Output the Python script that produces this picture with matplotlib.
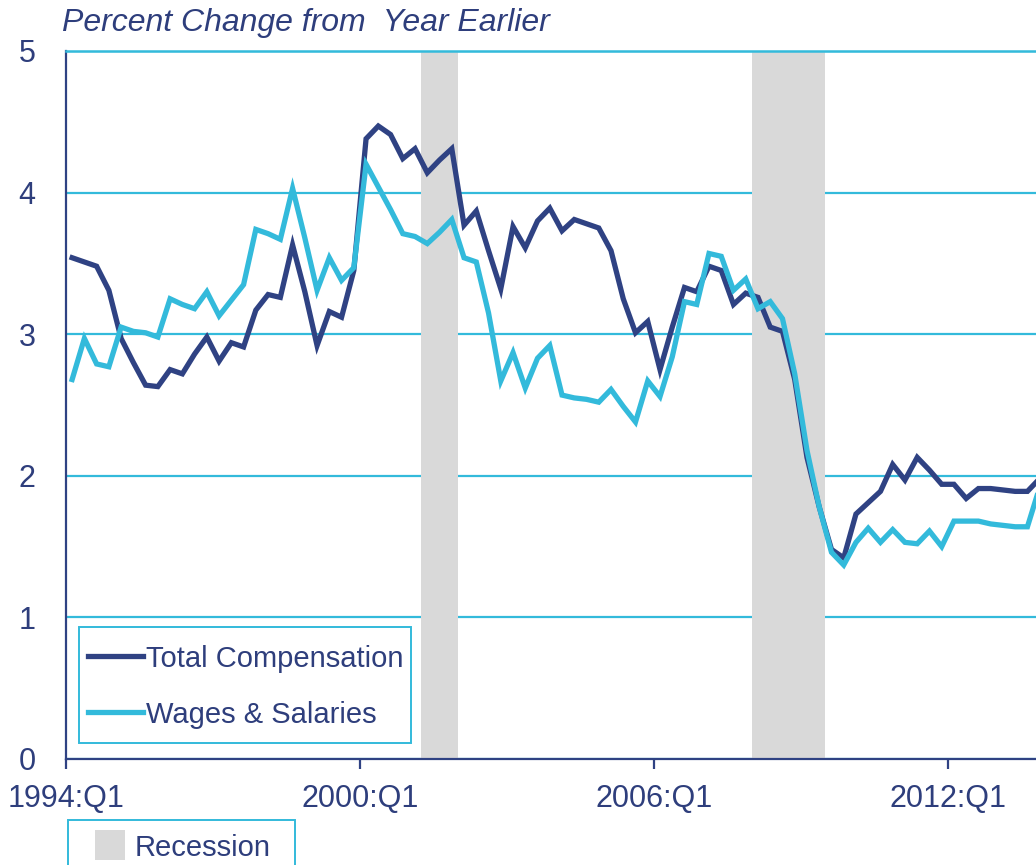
import numpy as np
import matplotlib.pyplot as plt
from matplotlib.patches import Rectangle
from matplotlib.lines import Line2D

plt.rcParams['font.family'] = ['Liberation Sans', 'DejaVu Sans']

# quarterly observations, 1994:Q1 .. 2013:Q4
quarters = [f"{y}:Q{q}" for y in range(1994, 2014) for q in range(1, 5)]

total_comp = [3.54, 3.51, 3.48, 3.31, 2.97, 2.80, 2.64, 2.63, 2.75, 2.72,
              2.86, 2.98, 2.81, 2.94, 2.91, 3.17, 3.28, 3.26, 3.63, 3.30,
              2.92, 3.16, 3.12, 3.45, 4.38, 4.47, 4.41, 4.24, 4.31, 4.14,
              4.23, 4.31, 3.77, 3.87, 3.59, 3.32, 3.76, 3.61, 3.80, 3.89,
              3.73, 3.81, 3.78, 3.75, 3.59, 3.25, 3.01, 3.09, 2.75, 3.05,
              3.33, 3.30, 3.48, 3.45, 3.21, 3.29, 3.26, 3.05, 3.02, 2.68,
              2.13, 1.78, 1.48, 1.42, 1.73, 1.81, 1.89, 2.08, 1.97, 2.13,
              2.04, 1.94, 1.94, 1.84, 1.91, 1.91, 1.90, 1.89, 1.89, 1.98]

wages = [2.68, 2.97, 2.79, 2.77, 3.05, 3.02, 3.01, 2.98, 3.25, 3.21,
         3.18, 3.30, 3.13, 3.24, 3.35, 3.74, 3.71, 3.67, 4.03, 3.68,
         3.31, 3.54, 3.38, 3.47, 4.20, 4.04, 3.88, 3.71, 3.69, 3.64,
         3.72, 3.81, 3.54, 3.51, 3.15, 2.67, 2.87, 2.62, 2.83, 2.92,
         2.57, 2.55, 2.54, 2.52, 2.61, 2.49, 2.38, 2.67, 2.56, 2.84,
         3.23, 3.21, 3.57, 3.55, 3.31, 3.39, 3.18, 3.23, 3.11, 2.72,
         2.18, 1.78, 1.46, 1.37, 1.53, 1.63, 1.53, 1.62, 1.53, 1.52,
         1.61, 1.50, 1.68, 1.68, 1.68, 1.66, 1.65, 1.64, 1.64, 1.92]

recession_start = ["2001:Q2", "2008:Q1"]
recession_end = ["2001:Q4", "2009:Q2"]

tick_labels = ["1994:Q1", "2000:Q1", "2006:Q1", "2012:Q1"]
y_ticks = [0, 1, 2, 3, 4, 5]

navy = '#2F4283'
cyan = '#33BADB'
grey = '#D9D9D9'
text_col = '#2E3E7C'

W, H = 1036, 865
fig = plt.figure(figsize=(W / 100, H / 100), dpi=100)
ax = fig.add_axes([66 / W, 106 / H, 970 / W, 708 / H])

x = np.arange(len(quarters))

# recession bars cover whole quarters
for s, e in zip(recession_start, recession_end):
    i0, i1 = quarters.index(s), quarters.index(e)
    ax.axvspan(i0 - 0.5, i1 + 0.5, color=grey, lw=0, zorder=2)

ax.plot(x, total_comp, color=navy, lw=3.8, solid_joinstyle='miter', zorder=3)
ax.plot(x, wages, color=cyan, lw=3.8, solid_joinstyle='miter', zorder=4)

ax.set_xlim(-0.5, 78.7)
ax.set_ylim(0, 5)

tick_pos = [quarters.index(t) - 0.5 for t in tick_labels]
ax.set_xticks(tick_pos)
ax.set_xticklabels(tick_labels)
ax.set_yticks(y_ticks)

ax.yaxis.grid(True, color=cyan, lw=1.6, zorder=1)
ax.set_axisbelow(True)

ax.spines['right'].set_visible(False)
ax.spines['top'].set_color(cyan)
ax.spines['top'].set_linewidth(1.8)
ax.spines['left'].set_color(navy)
ax.spines['left'].set_linewidth(1.6)
ax.spines['bottom'].set_color(navy)
ax.spines['bottom'].set_linewidth(1.6)

ax.tick_params(axis='x', direction='out', length=7, width=1.6, color=navy,
               labelsize=22, labelcolor=text_col, pad=11)
ax.tick_params(axis='y', length=0, labelsize=22, labelcolor=text_col, pad=22)

fig.text(62 / W, 1 - 8 / H, "Percent Change from  Year Earlier",
         fontsize=23, style='italic', color=text_col, ha='left', va='top')


def fig_xy(px, py):
    # pixel position measured from the top-left corner -> figure fraction
    return px / W, 1 - py / H


# series key inside the plot
frame = Rectangle(fig_xy(79, 743), 332 / W, 116 / H, transform=fig.transFigure,
                  facecolor='white', edgecolor=cyan, lw=1.4, zorder=5)
fig.patches.append(frame)
for label, color, py in [("Total Compensation", navy, 656),
                         ("Wages & Salaries", cyan, 712)]:
    x0, y0 = fig_xy(88, py)
    x1, _ = fig_xy(143, py)
    fig.lines.append(Line2D([x0, x1], [y0, y0], transform=fig.transFigure,
                            color=color, lw=3.8, zorder=6))
    fig.text(*fig_xy(146, py), label, fontsize=21, color=text_col,
             ha='left', va='center_baseline', zorder=6)

# recession key below the axis
box = Rectangle(fig_xy(68, 880), 227 / W, 60 / H, transform=fig.transFigure,
                facecolor='white', edgecolor=cyan, lw=1.4, clip_on=False)
fig.patches.append(box)
square = Rectangle(fig_xy(95, 860), 30 / W, 30 / H, transform=fig.transFigure,
                   facecolor=grey, edgecolor='none')
fig.patches.append(square)
fig.text(*fig_xy(135, 845), "Recession", fontsize=21, color=text_col,
         ha='left', va='center_baseline')

fig.savefig("out.png", dpi=100)
